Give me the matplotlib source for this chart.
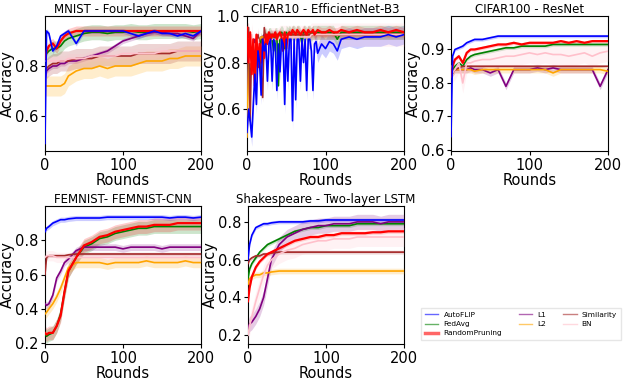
import matplotlib
matplotlib.use("Agg")
import matplotlib.pyplot as plt
from matplotlib.lines import Line2D
import numpy as np

# ---------------- data ----------------
methods = ["AutoFLIP", "FedAvg", "RandomPruning", "L1", "L2", "Similarity", "BN"]
colors = ["blue", "green", "red", "purple", "orange", "brown", "pink"]

rounds = [0, 2, 5, 10, 15, 20, 25, 30, 40, 50, 60, 70, 80, 90, 100, 110, 120, 130, 140, 150, 160, 170, 180, 190, 200]

# MNIST - Four-layer CNN
mnist_autoflip = [0.49, 0.94, 0.93, 0.86, 0.88, 0.92, 0.93, 0.94, 0.89, 0.94, 0.94, 0.94, 0.94, 0.94, 0.94, 0.93, 0.92, 0.93, 0.94, 0.93, 0.93, 0.92, 0.93, 0.92, 0.94]
mnist_fedavg = [0.83, 0.85, 0.86, 0.87, 0.87, 0.88, 0.90, 0.91, 0.92, 0.93, 0.935, 0.935, 0.93, 0.935, 0.935, 0.94, 0.935, 0.935, 0.94, 0.94, 0.94, 0.94, 0.94, 0.935, 0.94]
mnist_random = [0.83, 0.86, 0.88, 0.89, 0.87, 0.90, 0.92, 0.93, 0.94, 0.94, 0.94, 0.94, 0.94, 0.94, 0.94, 0.94, 0.94, 0.94, 0.94, 0.94, 0.94, 0.94, 0.94, 0.94, 0.94]
mnist_l1 = [0.75, 0.78, 0.79, 0.80, 0.80, 0.81, 0.81, 0.82, 0.82, 0.83, 0.84, 0.85, 0.86, 0.88, 0.90, 0.91, 0.92, 0.93, 0.935, 0.935, 0.93, 0.93, 0.92, 0.91, 0.94]
mnist_l2 = [0.72, 0.72, 0.72, 0.72, 0.72, 0.72, 0.73, 0.76, 0.78, 0.79, 0.79, 0.80, 0.79, 0.80, 0.80, 0.80, 0.81, 0.82, 0.82, 0.82, 0.83, 0.83, 0.84, 0.84, 0.84]
mnist_sim = [0.80, 0.79, 0.80, 0.81, 0.81, 0.82, 0.82, 0.82, 0.83, 0.83, 0.83, 0.84, 0.84, 0.84, 0.84, 0.84, 0.85, 0.85, 0.85, 0.85, 0.85, 0.86, 0.86, 0.86, 0.86]
mnist_bn = [0.82, 0.82, 0.82, 0.82, 0.82, 0.82, 0.82, 0.83, 0.83, 0.83, 0.84, 0.84, 0.84, 0.84, 0.85, 0.85, 0.85, 0.85, 0.85, 0.86, 0.86, 0.86, 0.86, 0.86, 0.86]
mnist_std = [0.01, 0.03, 0.02, 0.01, 0.04, 0.04, 0.02]

# CIFAR10 - EfficientNet-B3 (denser grid)
rounds_c10 = [0, 2, 4, 6, 8, 10, 12, 14, 16, 18, 20, 22, 24, 26, 28, 30, 32, 34, 36, 38, 40, 42, 44, 46, 48, 50, 52, 54, 56, 58, 60, 62, 64, 66, 68, 70, 72, 74, 76, 78, 80, 82, 84, 86, 88, 90, 95, 100, 105, 110, 115, 120, 130, 140, 150, 160, 170, 180, 190, 200]
c10_autoflip = [0.50, 0.60, 0.55, 0.48, 0.62, 0.75, 0.62, 0.85, 0.80, 0.66, 0.90, 0.85, 0.88, 0.72, 0.88, 0.90, 0.72, 0.90, 0.88, 0.68, 0.88, 0.76, 0.90, 0.88, 0.62, 0.90, 0.72, 0.90, 0.90, 0.55, 0.90, 0.64, 0.90, 0.90, 0.72, 0.90, 0.80, 0.90, 0.68, 0.90, 0.90, 0.85, 0.68, 0.88, 0.89, 0.84, 0.88, 0.86, 0.89, 0.88, 0.85, 0.90, 0.91, 0.90, 0.91, 0.91, 0.91, 0.92, 0.91, 0.92]
c10_fedavg = [0.70, 0.80, 0.75, 0.85, 0.80, 0.88, 0.82, 0.90, 0.85, 0.90, 0.88, 0.91, 0.92, 0.90, 0.92, 0.92, 0.90, 0.85, 0.92, 0.92, 0.70, 0.92, 0.93, 0.92, 0.86, 0.93, 0.92, 0.93, 0.92, 0.93, 0.93, 0.92, 0.93, 0.93, 0.92, 0.88, 0.93, 0.93, 0.92, 0.93, 0.93, 0.92, 0.93, 0.93, 0.93, 0.93, 0.93, 0.93, 0.93, 0.93, 0.90, 0.93, 0.93, 0.93, 0.93, 0.93, 0.93, 0.93, 0.93, 0.93]
c10_random = [0.95, 0.80, 0.93, 0.75, 0.90, 0.70, 0.92, 0.78, 0.88, 0.80, 0.90, 0.82, 0.92, 0.88, 0.93, 0.90, 0.92, 0.91, 0.93, 0.90, 0.92, 0.93, 0.91, 0.85, 0.93, 0.86, 0.92, 0.93, 0.92, 0.94, 0.93, 0.92, 0.94, 0.93, 0.92, 0.93, 0.94, 0.93, 0.92, 0.94, 0.93, 0.93, 0.94, 0.92, 0.93, 0.94, 0.93, 0.93, 0.94, 0.93, 0.93, 0.94, 0.93, 0.94, 0.93, 0.93, 0.94, 0.93, 0.94, 0.93]
c10_l1 = [0.60, 0.85, 0.80, 0.88, 0.85, 0.90, 0.88, 0.90, 0.90, 0.91, 0.91, 0.92, 0.92, 0.92, 0.92, 0.92, 0.92, 0.92, 0.92, 0.92, 0.92, 0.92, 0.92, 0.92, 0.92, 0.92, 0.92, 0.92, 0.92, 0.92, 0.92, 0.92, 0.92, 0.92, 0.92, 0.92, 0.92, 0.92, 0.92, 0.92, 0.92, 0.92, 0.92, 0.92, 0.92, 0.92, 0.92, 0.92, 0.92, 0.92, 0.92, 0.92, 0.92, 0.92, 0.92, 0.92, 0.92, 0.92, 0.92, 0.92]
c10_l2 = [0.48, 0.80, 0.78, 0.86, 0.84, 0.88, 0.87, 0.90, 0.90, 0.91, 0.91, 0.91, 0.92, 0.92, 0.92, 0.92, 0.92, 0.92, 0.92, 0.92, 0.92, 0.92, 0.92, 0.92, 0.92, 0.92, 0.92, 0.92, 0.92, 0.92, 0.92, 0.92, 0.92, 0.92, 0.92, 0.92, 0.92, 0.92, 0.92, 0.92, 0.92, 0.92, 0.92, 0.92, 0.92, 0.92, 0.92, 0.92, 0.92, 0.92, 0.92, 0.92, 0.92, 0.92, 0.92, 0.92, 0.92, 0.92, 0.92, 0.92]
c10_sim = [0.95, 0.95, 0.55, 0.90, 0.80, 0.70, 0.85, 0.92, 0.88, 0.75, 0.65, 0.95, 0.90, 0.92, 0.91, 0.92, 0.92, 0.92, 0.92, 0.92, 0.92, 0.92, 0.92, 0.92, 0.92, 0.92, 0.92, 0.92, 0.92, 0.92, 0.92, 0.92, 0.92, 0.92, 0.92, 0.92, 0.92, 0.92, 0.92, 0.92, 0.92, 0.92, 0.92, 0.92, 0.92, 0.92, 0.92, 0.92, 0.92, 0.92, 0.92, 0.92, 0.92, 0.92, 0.92, 0.92, 0.92, 0.92, 0.92, 0.92]
c10_bn = [0.85, 0.90, 0.80, 0.92, 0.85, 0.88, 0.82, 0.90, 0.86, 0.85, 0.88, 0.90, 0.89, 0.90, 0.89, 0.90, 0.90, 0.90, 0.90, 0.90, 0.90, 0.91, 0.91, 0.91, 0.91, 0.91, 0.91, 0.91, 0.91, 0.91, 0.91, 0.91, 0.91, 0.91, 0.91, 0.91, 0.91, 0.91, 0.91, 0.91, 0.91, 0.92, 0.92, 0.92, 0.92, 0.92, 0.92, 0.92, 0.92, 0.92, 0.92, 0.92, 0.92, 0.92, 0.92, 0.92, 0.92, 0.92, 0.92, 0.92]
c10_std = [0.04, 0.03, 0.02, 0.01, 0.01, 0.02, 0.05]

# CIFAR100 - ResNet
c100_autoflip = [0.64, 0.88, 0.90, 0.905, 0.91, 0.92, 0.925, 0.93, 0.93, 0.935, 0.94, 0.94, 0.94, 0.94, 0.94, 0.94, 0.94, 0.94, 0.94, 0.94, 0.94, 0.94, 0.94, 0.94, 0.94]
c100_fedavg = [0.83, 0.84, 0.85, 0.86, 0.85, 0.87, 0.88, 0.885, 0.89, 0.895, 0.90, 0.905, 0.905, 0.91, 0.91, 0.91, 0.91, 0.915, 0.915, 0.915, 0.915, 0.915, 0.915, 0.915, 0.915]
c100_random = [0.82, 0.85, 0.87, 0.88, 0.86, 0.89, 0.90, 0.90, 0.905, 0.91, 0.915, 0.915, 0.92, 0.915, 0.92, 0.92, 0.92, 0.92, 0.925, 0.92, 0.925, 0.92, 0.925, 0.925, 0.925]
c100_l1 = [0.83, 0.83, 0.84, 0.84, 0.84, 0.84, 0.845, 0.84, 0.84, 0.83, 0.84, 0.79, 0.84, 0.84, 0.84, 0.845, 0.84, 0.845, 0.84, 0.84, 0.84, 0.84, 0.84, 0.79, 0.84]
c100_l2 = [0.82, 0.83, 0.84, 0.84, 0.84, 0.84, 0.84, 0.835, 0.84, 0.84, 0.84, 0.84, 0.84, 0.84, 0.84, 0.84, 0.84, 0.83, 0.84, 0.84, 0.84, 0.84, 0.84, 0.84, 0.835]
c100_sim = [0.82, 0.83, 0.84, 0.845, 0.85, 0.85, 0.85, 0.85, 0.85, 0.85, 0.85, 0.85, 0.85, 0.85, 0.85, 0.85, 0.85, 0.85, 0.85, 0.85, 0.85, 0.85, 0.85, 0.85, 0.85]
c100_bn = [0.85, 0.83, 0.84, 0.86, 0.80, 0.86, 0.86, 0.865, 0.87, 0.87, 0.875, 0.88, 0.88, 0.885, 0.89, 0.885, 0.89, 0.885, 0.885, 0.88, 0.885, 0.89, 0.88, 0.89, 0.895]
c100_std = [0.005, 0.005, 0.005, 0.01, 0.01, 0.003, 0.03]

# FEMNIST - FEMNIST-CNN
fem_autoflip = [0.85, 0.87, 0.88, 0.90, 0.91, 0.92, 0.92, 0.925, 0.93, 0.93, 0.93, 0.93, 0.935, 0.935, 0.935, 0.935, 0.935, 0.935, 0.935, 0.935, 0.93, 0.935, 0.935, 0.93, 0.935]
fem_fedavg = [0.25, 0.24, 0.25, 0.26, 0.30, 0.37, 0.50, 0.62, 0.70, 0.76, 0.78, 0.81, 0.82, 0.84, 0.85, 0.86, 0.87, 0.87, 0.88, 0.88, 0.88, 0.88, 0.88, 0.88, 0.88]
fem_random = [0.26, 0.25, 0.26, 0.26, 0.30, 0.36, 0.50, 0.62, 0.70, 0.77, 0.79, 0.82, 0.83, 0.85, 0.86, 0.87, 0.88, 0.88, 0.89, 0.89, 0.89, 0.90, 0.90, 0.90, 0.90]
fem_l1 = [0.43, 0.42, 0.43, 0.48, 0.58, 0.62, 0.67, 0.69, 0.74, 0.76, 0.76, 0.76, 0.76, 0.76, 0.75, 0.76, 0.76, 0.76, 0.76, 0.75, 0.76, 0.76, 0.76, 0.76, 0.76]
fem_l2 = [0.37, 0.38, 0.40, 0.43, 0.47, 0.52, 0.58, 0.64, 0.67, 0.67, 0.67, 0.67, 0.66, 0.67, 0.67, 0.67, 0.67, 0.68, 0.67, 0.67, 0.67, 0.67, 0.68, 0.67, 0.67]
fem_sim = [0.60, 0.70, 0.71, 0.71, 0.71, 0.71, 0.71, 0.715, 0.72, 0.72, 0.72, 0.72, 0.72, 0.72, 0.72, 0.72, 0.72, 0.72, 0.72, 0.72, 0.72, 0.72, 0.72, 0.72, 0.72]
fem_bn = [0.70, 0.71, 0.71, 0.71, 0.70, 0.70, 0.70, 0.70, 0.70, 0.70, 0.70, 0.70, 0.70, 0.70, 0.70, 0.70, 0.70, 0.70, 0.70, 0.70, 0.70, 0.70, 0.70, 0.70, 0.70]
fem_std = [0.015, 0.04, 0.04, 0.02, 0.03, 0.01, 0.03]

# Shakespeare - Two-layer LSTM
shk_autoflip = [0.60, 0.68, 0.73, 0.77, 0.78, 0.79, 0.79, 0.795, 0.80, 0.80, 0.80, 0.80, 0.805, 0.805, 0.81, 0.81, 0.81, 0.81, 0.81, 0.81, 0.81, 0.81, 0.81, 0.81, 0.81]
shk_fedavg = [0.50, 0.55, 0.58, 0.61, 0.64, 0.66, 0.68, 0.69, 0.71, 0.73, 0.75, 0.76, 0.77, 0.77, 0.78, 0.78, 0.78, 0.78, 0.79, 0.79, 0.79, 0.79, 0.79, 0.79, 0.79]
shk_random = [0.38, 0.45, 0.51, 0.56, 0.59, 0.61, 0.63, 0.64, 0.66, 0.68, 0.70, 0.71, 0.72, 0.72, 0.73, 0.73, 0.74, 0.74, 0.74, 0.74, 0.745, 0.745, 0.75, 0.75, 0.75]
shk_l1 = [0.24, 0.26, 0.27, 0.30, 0.34, 0.40, 0.50, 0.60, 0.68, 0.72, 0.74, 0.76, 0.77, 0.78, 0.78, 0.79, 0.79, 0.79, 0.80, 0.80, 0.80, 0.79, 0.80, 0.80, 0.80]
shk_l2 = [0.47, 0.50, 0.51, 0.52, 0.52, 0.53, 0.53, 0.535, 0.54, 0.54, 0.54, 0.54, 0.54, 0.54, 0.54, 0.54, 0.54, 0.54, 0.54, 0.54, 0.54, 0.54, 0.54, 0.54, 0.54]
shk_sim = [0.58, 0.60, 0.61, 0.62, 0.62, 0.63, 0.63, 0.635, 0.64, 0.64, 0.64, 0.64, 0.64, 0.64, 0.64, 0.64, 0.64, 0.64, 0.64, 0.64, 0.64, 0.64, 0.64, 0.64, 0.64]
shk_bn = [0.20, 0.25, 0.30, 0.38, 0.45, 0.52, 0.57, 0.60, 0.63, 0.65, 0.66, 0.68, 0.69, 0.70, 0.70, 0.71, 0.71, 0.71, 0.72, 0.72, 0.72, 0.72, 0.72, 0.72, 0.72]
shk_std = [0.01, 0.01, 0.01, 0.04, 0.015, 0.01, 0.05]

titles = ["MNIST - Four-layer CNN", "CIFAR10 - EfficientNet-B3", "CIFAR100 - ResNet",
          "FEMNIST- FEMNIST-CNN", "Shakespeare - Two-layer LSTM"]

panels = [
    (rounds, [mnist_autoflip, mnist_fedavg, mnist_random, mnist_l1, mnist_l2, mnist_sim, mnist_bn], mnist_std),
    (rounds_c10, [c10_autoflip, c10_fedavg, c10_random, c10_l1, c10_l2, c10_sim, c10_bn], c10_std),
    (rounds, [c100_autoflip, c100_fedavg, c100_random, c100_l1, c100_l2, c100_sim, c100_bn], c100_std),
    (rounds, [fem_autoflip, fem_fedavg, fem_random, fem_l1, fem_l2, fem_sim, fem_bn], fem_std),
    (rounds, [shk_autoflip, shk_fedavg, shk_random, shk_l1, shk_l2, shk_sim, shk_bn], shk_std),
]

ylims = [(0.46, 1.0), (0.42, 1.0), (0.597, 1.0), (0.195, 1.0), (0.154, 0.884)]
yticks = [[0.6, 0.8], [0.6, 0.8, 1.0], [0.6, 0.7, 0.8, 0.9], [0.2, 0.4, 0.6, 0.8], [0.2, 0.4, 0.6, 0.8]]

# axes rectangles in pixels (left, top, right, bottom)
W, H = 623, 391
rects = [(45, 16, 201, 151), (247, 16, 404, 151), (451, 16, 608, 151),
         (45, 206, 201, 344), (248, 206, 404, 344)]

fig = plt.figure(figsize=(W / 100, H / 100), dpi=100)
draw_order = [6, 5, 4, 3, 1, 2, 0]
for i, (rect, (x, series, stds)) in enumerate(zip(rects, panels)):
    l, t, r, b = rect
    ax = fig.add_axes([l / W, 1 - b / H, (r - l) / W, (b - t) / H])
    xs = np.array(x)
    for k in draw_order:
        y = np.array(series[k])
        lw = 1.6 if k == 2 else 1.2
        ax.fill_between(xs, y - stds[k], y + stds[k], color=colors[k], alpha=0.2, lw=0, zorder=k)
        ax.plot(xs, y, color=colors[k], lw=lw, zorder=10 + (7 - k) if k in (0, 2) else 10 + k * 0.1)
    ax.set_xlim(0, 200)
    ax.set_ylim(*ylims[i])
    ax.set_xticks([0, 100, 200])
    ax.set_yticks(yticks[i])
    ax.tick_params(labelsize=10.5, length=3, pad=2)
    ax.set_title(titles[i], fontsize=8.5, pad=2)
    ax.set_xlabel("Rounds", fontsize=10.5, labelpad=0)
    ax.set_ylabel("Accuracy", fontsize=10.5, labelpad=0)

handles = [Line2D([], [], color=c, lw=(2.5 if m == "RandomPruning" else 1.0), alpha=0.6)
           for m, c in zip(methods, colors)]
fig.legend(handles, methods, loc="center", bbox_to_anchor=(521 / W, 1 - 324 / H), ncol=3,
           fontsize=5.3, frameon=True, fancybox=False, edgecolor="#e0e0e0", handlelength=1.8,
           handletextpad=0.7, columnspacing=2.3, labelspacing=0.4, borderpad=0.5)

fig.savefig("out.png", dpi=100)
